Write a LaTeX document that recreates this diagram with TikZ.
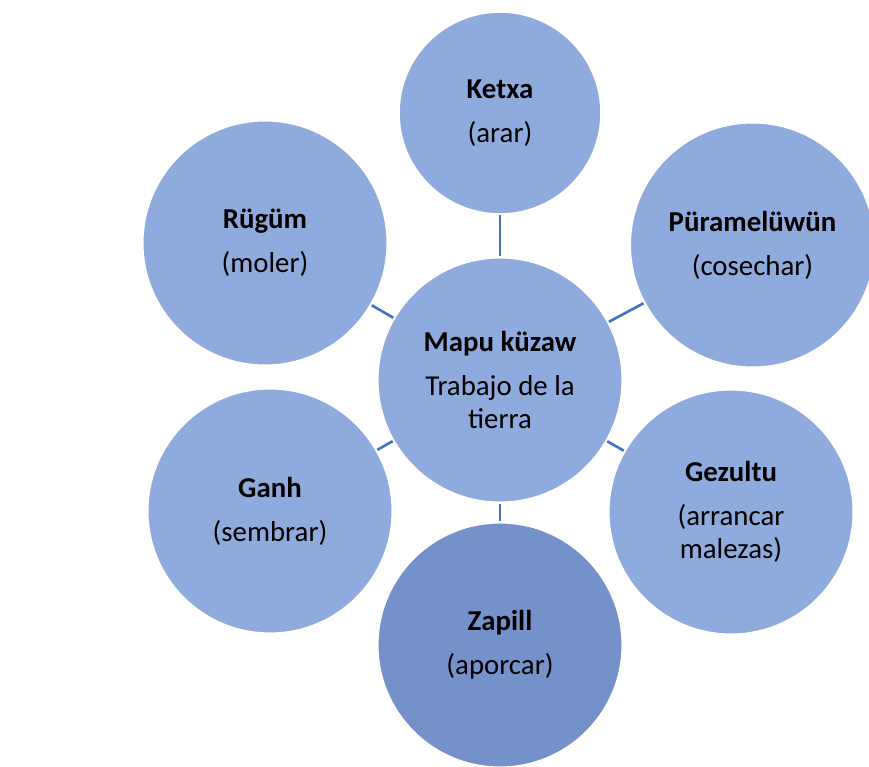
\documentclass[tikz,border=0pt]{standalone}
\usepackage{fontspec}
\setmainfont{Carlito}
\definecolor{ringblue}{HTML}{8FAADC}
\definecolor{darkblue}{HTML}{7591C9}
\definecolor{linkblue}{HTML}{4472C4}
\usetikzlibrary{positioning}

\begin{document}
\begin{tikzpicture}[
        circ/.style={circle, draw=white, line width=1.2pt, fill=ringblue,
                     minimum size=4.9cm, inner sep=0pt, align=center,
                     font=\fontsize{16.4}{19}\selectfont},
        link/.style={linkblue, line width=1.5pt}
      ]
        \useasboundingbox (0,0) rectangle (17.38,-15.32);

        \node[circ] (mapu) at (10.0,-7.6) {\textbf{Mapu küzaw}\\[6pt]Trabajo de la\\tierra};
        \node[circ, minimum size=4.05cm] (ketxa) at (10.0,-2.26) {\textbf{Ketxa}\\[6pt](arar)};
        \node[circ] (pura) at (15.05,-4.9) {\textbf{Püramelüwün}\\[6pt](cosechar)};
        \node[circ] (gezu) at (14.62,-10.24) {\textbf{Gezultu}\\[6pt](arrancar\\malezas)};
        \node[circ, fill=darkblue] (zapi) at (10.0,-12.9) {\textbf{Zapill}\\[6pt](aporcar)};
        \node[circ] (ganh) at (5.4,-10.22) {\textbf{Ganh}\\[6pt](sembrar)};
        \node[circ] (rugu) at (5.3,-4.86) {\textbf{Rügüm}\\[6pt](moler)};

        \draw[link] (mapu) -- (ketxa);
        \draw[link] (mapu) -- (pura);
        \draw[link] (mapu) -- (gezu);
        \draw[link] (mapu) -- (zapi);
        \draw[link] (mapu) -- (ganh);
        \draw[link] (mapu) -- (rugu);
      \end{tikzpicture}
\end{document}
